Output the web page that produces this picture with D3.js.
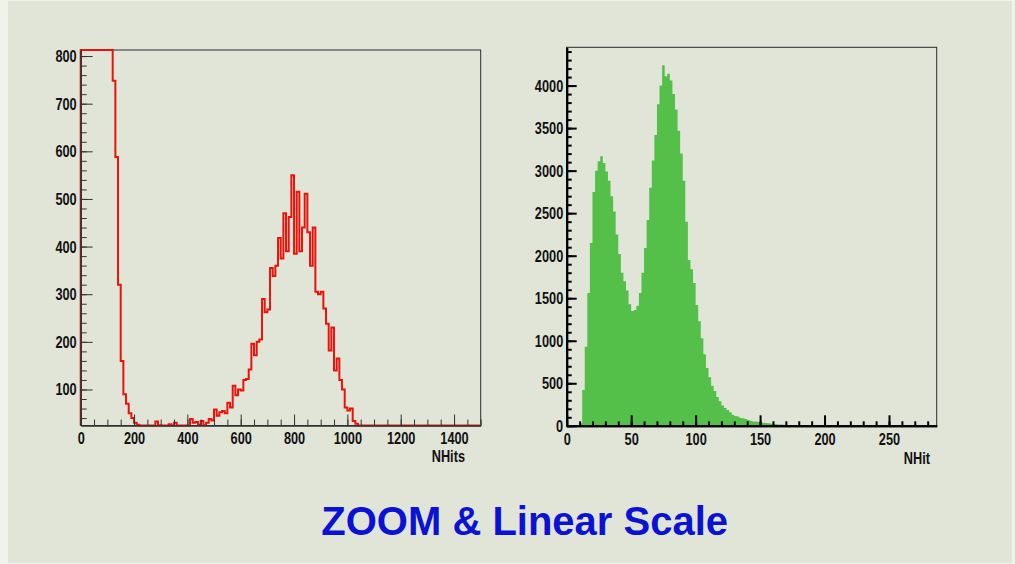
<!DOCTYPE html>
<html>
<head>
<meta charset="utf-8">
<script src="https://cdn.jsdelivr.net/npm/d3@7"></script>
<style>
  html, body { margin: 0; padding: 0; background: #f0f2ec; }
  svg { display: block; }
  .tick text, .axisTitle { font-family: "Liberation Sans", Arial, sans-serif; font-weight: bold; font-size: 17px; fill: #111; }
</style>
</head>
<body>
<div id="chart"></div>
<script>
// left histogram: NHits, bins of 10 from 0 to 1500
let hitsBinWidth = 10
let hitsCounts = [
  5200, 4600, 4100, 3500, 3000, 2600, 2200, 1900, 1600, 1350, 1150, 950,
  748, 588, 320, 160, 90, 70, 50, 40, 30, 26, 22, 20,
  22, 21, 20, 22, 33, 25, 20, 21, 20, 27, 22, 30,
  20, 19, 21, 20, 22, 38, 30, 32, 26, 34, 25, 30,
  38, 35, 58, 45, 52, 55, 50, 72, 62, 108, 88, 100,
  98, 120, 122, 142, 196, 172, 200, 205, 290, 262, 268, 355,
  338, 360, 418, 375, 470, 390, 462, 550, 385, 515, 390, 440,
  511, 430, 360, 440, 305, 300, 305, 270, 238, 182, 230, 140,
  165, 120, 100, 62, 56, 60, 34, 28, 12, 8, 6, 5,
  4, 3, 3, 2, 2, 1, 1, 1, 1, 0, 0, 0,
  0, 0, 0, 0, 0, 0, 0, 0, 0, 0, 0, 0,
  0, 0, 0, 0, 0, 0, 0, 0, 0, 0, 0, 0,
  0, 0, 0, 0, 0, 0
]
let hitsXTicks = [0, 200, 400, 600, 800, 1000, 1200, 1400]
let hitsYTicks = [100, 200, 300, 400, 500, 600, 700, 800]

// right histogram: NHit, bins of 2 from 0
let hitBinWidth = 2
let hitCounts = [
  0, 0, 0, 0, 0, 30, 420, 930, 1560, 2150,
  2750, 3000, 3110, 3170, 3090, 2990, 2880, 2700, 2520, 2250,
  2020, 1800, 1700, 1590, 1430, 1350, 1360, 1410, 1560, 1800,
  2090, 2420, 2800, 3120, 3420, 3780, 4000, 4240, 4110, 4140,
  4060, 3900, 3720, 3470, 3200, 2880, 2400, 1950, 1840, 1680,
  1420, 1230, 1030, 840, 680, 570, 470, 410, 340, 290,
  240, 210, 185, 160, 130, 115, 108, 92, 88, 80,
  68, 60, 52, 50, 45, 40, 36, 34, 30, 25,
  22, 18, 15, 14, 12, 10, 9, 8, 8, 6,
  5, 3, 2, 2, 1, 1, 0, 0
]
let hitXTicks = [0, 50, 100, 150, 200, 250]
let hitYTicks = [0, 500, 1000, 1500, 2000, 2500, 3000, 3500, 4000]

let titleText = 'ZOOM & Linear Scale'

let width = 1015, height = 564
let squeeze = 0.75   // ROOT labels look condensed

let svg = d3.select('#chart').append('svg')
  .attr('width', width)
  .attr('height', height)

svg.append('rect')
  .attr('x', 8).attr('y', 1)
  .attr('width', width - 11).attr('height', height - 2)
  .attr('fill', '#e0e5d8')

function toPoints(counts, binWidth){
  let pts = counts.map(function(c, i){ return { u: i * binWidth, v: c } })
  pts.push({ u: counts.length * binWidth, v: counts[counts.length - 1] })
  return pts
}

// condense tick labels: scale x around the tick origin
function condenseX(axisG, y){
  axisG.selectAll('.tick text')
    .attr('x', 0).attr('y', y).attr('dy', '0')
    .attr('transform', 'scale(' + squeeze + ',1)')
}
function condenseY(axisG, gap){
  axisG.selectAll('.tick text')
    .attr('x', -gap / squeeze)
    .attr('transform', 'scale(' + squeeze + ',1)')
}
function axisTitle(g, x, y, label){
  g.append('text')
    .attr('class', 'axisTitle')
    .attr('text-anchor', 'end')
    .attr('transform', 'translate(' + x + ',' + y + ') scale(' + squeeze + ',1)')
    .text(label)
}

//------ left plot ------
let left = { x0: 80.7, x1: 480.7, y0: 425.5, y1: 50 }
let xL = d3.scaleLinear().domain([0, 1500]).range([left.x0, left.x1])
let yL = d3.scaleLinear().domain([24.4, 812.7]).range([left.y0, left.y1])

let gL = svg.append('g')

gL.append('rect')
  .attr('x', left.x0).attr('y', left.y1)
  .attr('width', left.x1 - left.x0).attr('height', left.y0 - left.y1)
  .attr('fill', 'none')
  .attr('stroke', '#2a2a2a')
  .attr('stroke-width', 1)

let clampL = function(v){ return Math.max(yL.domain()[0], Math.min(yL.domain()[1], v)) }
let hitsPts = [{ u: 0, v: yL.domain()[0] }].concat(toPoints(hitsCounts, hitsBinWidth))
let hitsLine = d3.line()
  .curve(d3.curveStepAfter)
  .x(function(d){ return xL(Math.min(d.u, 1500)) })
  .y(function(d){ return yL(clampL(d.v)) })

gL.append('path')
  .attr('d', hitsLine(hitsPts.filter(function(d){ return d.u <= 1500 })))
  .attr('fill', 'none')
  .attr('stroke', '#e8140c')
  .attr('stroke-width', 2)

// minor ticks
gL.append('g')
  .attr('transform', 'translate(0,' + left.y0 + ')')
  .call(d3.axisBottom(xL).tickValues(d3.range(0, 1501, 50)).tickSize(-6).tickSizeOuter(0).tickFormat(''))
gL.append('g')
  .attr('transform', 'translate(' + left.x0 + ',0)')
  .call(d3.axisLeft(yL).tickValues(d3.range(40, 813, 20)).tickSize(-6).tickSizeOuter(0).tickFormat(''))
// major ticks + labels
let xAxisL = gL.append('g')
  .attr('transform', 'translate(0,' + left.y0 + ')')
  .call(d3.axisBottom(xL).tickValues(hitsXTicks).tickSize(-11).tickSizeOuter(0).tickFormat(d3.format('d')))
let yAxisL = gL.append('g')
  .attr('transform', 'translate(' + left.x0 + ',0)')
  .call(d3.axisLeft(yL).tickValues(hitsYTicks).tickSize(-12).tickSizeOuter(0).tickFormat(d3.format('d')))
gL.selectAll('.domain').attr('stroke', '#333').attr('stroke-width', 1.2)
gL.selectAll('.tick line').attr('stroke', '#333').attr('stroke-width', 1)
condenseX(xAxisL, 19)
condenseY(yAxisL, 4)

axisTitle(gL, 465, 462, 'NHits')

//------ right plot ------
let right = { x0: 566.7, x1: 936.7, y0: 425.8, y1: 47.3 }
let xR = d3.scaleLinear().domain([0, 287]).range([right.x0, right.x1])
let yR = d3.scaleLinear().domain([0, 4450]).range([right.y0, right.y1])

let gR = svg.append('g')

gR.append('rect')
  .attr('x', right.x0).attr('y', right.y1)
  .attr('width', right.x1 - right.x0).attr('height', right.y0 - right.y1)
  .attr('fill', 'none')
  .attr('stroke', '#2a2a2a')
  .attr('stroke-width', 1)

let hitArea = d3.area()
  .curve(d3.curveStepAfter)
  .x(function(d){ return xR(d.u) })
  .y0(right.y0)
  .y1(function(d){ return yR(d.v) })

gR.append('path')
  .attr('d', hitArea(toPoints(hitCounts, hitBinWidth)))
  .attr('fill', '#54c04a')
  .attr('stroke', 'none')

gR.append('g')
  .attr('transform', 'translate(0,' + right.y0 + ')')
  .call(d3.axisBottom(xR).tickValues(d3.range(0, 287, 10)).tickSize(-4.5).tickSizeOuter(0).tickFormat(''))
gR.append('g')
  .attr('transform', 'translate(' + right.x0 + ',0)')
  .call(d3.axisLeft(yR).tickValues(d3.range(0, 4451, 100)).tickSize(-5).tickSizeOuter(0).tickFormat(''))
let xAxisR = gR.append('g')
  .attr('transform', 'translate(0,' + right.y0 + ')')
  .call(d3.axisBottom(xR).tickValues(hitXTicks).tickSize(-10.5).tickSizeOuter(0).tickFormat(d3.format('d')))
let yAxisR = gR.append('g')
  .attr('transform', 'translate(' + right.x0 + ',0)')
  .call(d3.axisLeft(yR).tickValues(hitYTicks).tickSize(-10).tickSizeOuter(0).tickFormat(d3.format('d')))
gR.selectAll('.domain').attr('stroke', '#000').attr('stroke-width', 2)
gR.selectAll('.tick line').attr('stroke', '#000').attr('stroke-width', 2)
condenseX(xAxisR, 19)
condenseY(yAxisR, 3.5)

axisTitle(gR, 930, 464, 'NHit')

//------ title ------
svg.append('text')
  .attr('x', 524.7).attr('y', 535)
  .attr('text-anchor', 'middle')
  .style('font-family', '"Liberation Sans", Arial, sans-serif')
  .style('font-weight', 'bold')
  .style('font-size', '40px')
  .style('fill', '#0b12d2')
  .text(titleText)
</script>
</body>
</html>
